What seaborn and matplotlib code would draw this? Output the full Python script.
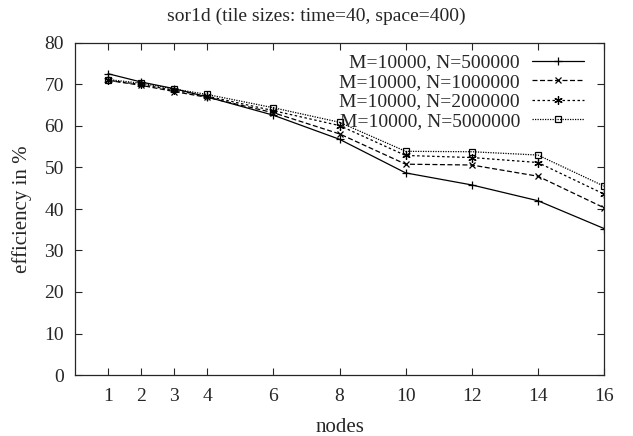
import matplotlib
matplotlib.use("Agg")
import matplotlib.pyplot as plt
import seaborn as sns
import pandas as pd

nodes = [1, 2, 3, 4, 6, 8, 10, 12, 14, 16]
labels = ["M=10000, N=500000", "M=10000, N=1000000",
          "M=10000, N=2000000", "M=10000, N=5000000"]
eff_500k = [72.6, 70.6, 69.0, 67.0, 62.6, 56.8, 48.7, 45.8, 42.0, 35.3]
eff_1m = [71.0, 69.8, 68.3, 66.9, 63.2, 58.1, 50.8, 50.6, 47.9, 40.3]
eff_2m = [71.0, 70.0, 68.6, 67.2, 63.7, 60.1, 52.9, 52.4, 51.2, 43.6]
eff_5m = [71.2, 70.3, 68.9, 67.6, 64.4, 60.9, 53.9, 53.8, 53.0, 45.5]
series = [eff_500k, eff_1m, eff_2m, eff_5m]

sns.set_style("ticks")
plt.rcParams["font.family"] = ["Liberation Serif", "DejaVu Serif"]

fig = plt.figure(figsize=(6.33, 4.36), dpi=100)
ax = fig.add_axes([75 / 633, 1 - 375 / 436, 529 / 633, 332 / 436])

styles = [
    dict(linestyle="-", marker="+", markersize=6, mfc="none"),
    dict(linestyle=(0, (4, 2)), marker="x", markersize=5, mfc="none"),
    dict(linestyle=(0, (2, 2)), marker=(6, 2, 0), markersize=6, mfc="none"),
    dict(linestyle=(0, (1, 1)), marker="s", markersize=5, mfc="none"),
]

for lab, vals, st in zip(labels, series, styles):
    df = pd.DataFrame({"nodes": nodes, "eff": vals})
    sns.lineplot(data=df, x="nodes", y="eff", ax=ax, color="black",
                 linewidth=0.9, label=lab, mec="black", mew=0.9, **st)

ax.set_xlim(0, 16)
ax.set_ylim(0, 80)
ax.set_xticks(nodes)
ax.set_yticks(range(0, 81, 10))
ax.tick_params(direction="in", top=True, right=True, labelsize=14,
               length=5, width=0.8)
ax.tick_params(axis="x", pad=9)
ax.tick_params(axis="y", pad=8)
for s in ax.spines.values():
    s.set_linewidth(0.9)
ax.set_xlabel("nodes", fontsize=15, labelpad=10)
ax.set_ylabel("efficiency in %", fontsize=15, labelpad=9)
ax.set_title("sor1d (tile sizes: time=40, space=400)", fontsize=14,
             pad=16, x=(316.5 - 75) / 529)

leg = ax.legend(loc="upper right", frameon=False, markerfirst=False,
                fontsize=14, handlelength=2.7, handletextpad=0.6,
                labelspacing=0.1, borderaxespad=0.0,
                bbox_to_anchor=(1 - 12 / 529, 1 - 3 / 332), alignment="right")

fig.savefig("out.png", dpi=100)
